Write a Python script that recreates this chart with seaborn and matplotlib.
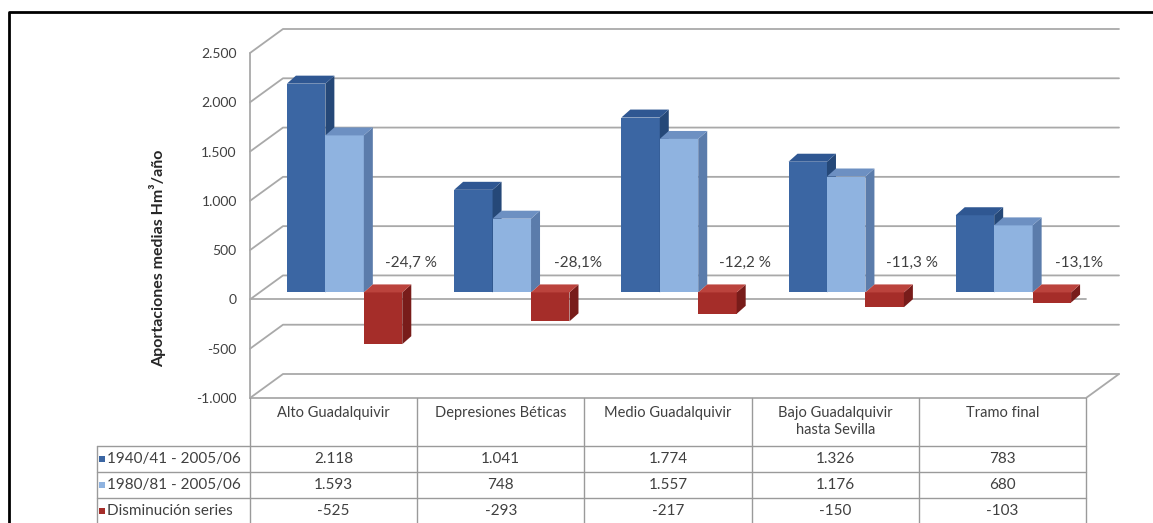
import numpy as np
import pandas as pd
import matplotlib
matplotlib.use("Agg")
import matplotlib.pyplot as plt
from matplotlib.lines import Line2D
from matplotlib.patches import Polygon, Rectangle
from matplotlib.transforms import ScaledTranslation
import seaborn as sns

# ---- data ----
regions = ["Alto Guadalquivir", "Depresiones Béticas", "Medio Guadalquivir",
           "Bajo Guadalquivir\nhasta Sevilla", "Tramo final"]
series_names = ["1940/41 - 2005/06", "1980/81 - 2005/06", "Disminución series"]
serie_1940 = [2118, 1041, 1774, 1326, 783]
serie_1980 = [1593, 748, 1557, 1176, 680]
disminucion = [-525, -293, -217, -150, -103]
pct_labels = ["-24,7 %", "-28,1%", "-12,2 %", "-11,3 %", "-13,1%"]
y_ticks = [-1000, -500, 0, 500, 1000, 1500, 2000, 2500]
y_label = "Aportaciones medias Hm³/año"

front_cols = ["#3b66a3", "#8fb3e0", "#a52d29"]
side_cols = ["#254878", "#5b7cab", "#781c1a"]
top_cols = ["#2f5792", "#6d90c2", "#bb433d"]

df = pd.DataFrame({
    "region": regions * 3,
    "series": [s for s in series_names for _ in regions],
    "value": serie_1940 + serie_1980 + disminucion,
})

sns.set_theme(style="white")
plt.rcParams["font.family"] = ["Lato", "DejaVu Sans"]

TXT = "#404040"
W, H = 1153, 523
fig = plt.figure(figsize=(W / 100, H / 100), dpi=100)
fig.patch.set_facecolor("white")
AX_L, AX_R, AX_T, AX_B = 250, 1086, 53, 398
ax = fig.add_axes([AX_L / W, 1 - AX_B / H, (AX_R - AX_L) / W, (AX_B - AX_T) / H])

sns.barplot(data=df, x="region", y="value", hue="series", hue_order=series_names,
            palette=front_cols, width=0.69, saturation=1, ax=ax, legend=False,
            errorbar=None)
ax.set_xlim(-0.5, len(regions) - 0.5)
ax.set_ylim(-1000, 2500)
ax.set_facecolor("none")
for s in ax.spines.values():
    s.set_visible(False)
ax.set_xticks([])
ax.set_xlabel("")
ax.set_ylabel("")
ax.set_yticks(y_ticks)
ax.set_yticklabels([f"{v:,}".replace(",", ".") for v in y_ticks])
ax.tick_params(axis="y", length=0, pad=9.5, labelsize=10, labelcolor=TXT)

def F(xp, yp):
    return (xp / W, 1 - yp / H)

def data_px(x, v):
    d = ax.transData.transform((x, v))
    return d[0], H - d[1]

GRID = "#a9a9a9"
DX_W, DY_W = 33, 24   # wall depth

def fline(xs, ys, color=GRID, lw=1.3, z=0.5, target=None):
    pts = [F(x, y) for x, y in zip(xs, ys)]
    ln = Line2D([p[0] for p in pts], [p[1] for p in pts], color=color, lw=lw,
                transform=fig.transFigure, zorder=z, clip_on=False)
    if target is None:
        ax.add_line(ln)
    else:
        fig.add_artist(ln)

x_left_px = data_px(-0.5, 0)[0]
x_right_px = data_px(len(regions) - 0.5, 0)[0]
for v in y_ticks:
    _, yp = data_px(-0.5, v)
    fline([x_left_px, x_left_px + DX_W, x_right_px + DX_W],
          [yp, yp - DY_W, yp - DY_W])
# front lines at 0 and floor
_, y0 = data_px(0, 0)
fline([x_left_px, x_right_px], [y0, y0])
_, yb = data_px(0, -1000)
_, yt = data_px(0, 2500)
fline([x_left_px, x_right_px, x_right_px + DX_W], [yb, yb, yb - DY_W])
fline([x_left_px, x_left_px], [yt, yb])

# ---- pseudo 3D bars ----
SHX, SHY = 11, 7
DX, DY = 9, 8
shift = ScaledTranslation(SHX / 100, SHY / 100, fig.dpi_scale_trans)
n = len(regions)
for k, p in enumerate(list(ax.patches)):
    si = k // n
    z = 2 + si
    p.set_transform(ax.transData + shift)
    p.set_zorder(z)
    p.set_edgecolor("none")
    x0, w = p.get_x(), p.get_width()
    y0d, h = p.get_y(), p.get_height()
    top, bot = max(y0d, y0d + h), min(y0d, y0d + h)
    L, T = data_px(x0, top)
    R, B = data_px(x0 + w, bot)
    L += SHX; R += SHX; T -= SHY; B -= SHY
    side = [F(R, T), F(R + DX, T - DY), F(R + DX, B - DY), F(R, B)]
    topf = [F(L, T), F(R, T), F(R + DX, T - DY), F(L + DX, T - DY)]
    for verts, col in ((side, side_cols[si]), (topf, top_cols[si])):
        ax.add_patch(Polygon(verts, closed=True, facecolor=col, edgecolor="none",
                             transform=fig.transFigure, zorder=z, clip_on=False))

for i, lab in enumerate(pct_labels):
    ax.text(i + 0.46, 370, lab, ha="center", va="center", fontsize=11,
            color=TXT, zorder=6)

# y label
fig.text(158 / W, 1 - 258 / H, y_label, rotation=90, ha="center", va="center",
         fontsize=11.5, fontweight="bold", color="#262626")

# ---- data table ----
TAB = "#9a9a9a"
row_lines = [446, 472, 498]
col_edges = [data_px(i - 0.5, 0)[0] for i in range(n + 1)]
for xe in col_edges:
    fline([xe, xe], [yb, H], color=TAB, lw=1.0, target="fig")
fline([97, 97], [row_lines[0], H], color=TAB, lw=1.0, target="fig")
for yr in row_lines:
    fline([97, col_edges[-1]], [yr, yr], color=TAB, lw=1.0, target="fig")

for i, reg in enumerate(regions):
    cx = (col_edges[i] + col_edges[i + 1]) / 2
    fig.text(*F(cx, 406), reg, ha="center", va="top", fontsize=10.5,
             color=TXT, linespacing=1.3)
rows = [serie_1940, serie_1980, disminucion]
row_centers = [459, 485, 511]
for r, (vals, yc) in enumerate(zip(rows, row_centers)):
    fig.add_artist(Rectangle(F(99, yc + 3), 6 / W, 6 / H, transform=fig.transFigure,
                             facecolor=front_cols[r], edgecolor="none"))
    fig.text(*F(107, yc), series_names[r], ha="left", va="center", fontsize=11,
             color=TXT)
    for i, v in enumerate(vals):
        cx = (col_edges[i] + col_edges[i + 1]) / 2
        fig.text(*F(cx, yc), f"{v:,}".replace(",", "."), ha="center", va="center",
                 fontsize=11, color=TXT)

# black frame (top and left)
fig.add_artist(Line2D([9 / W, 9 / W, 1], [0, 1 - 12 / H, 1 - 12 / H], color="black",
                      lw=2.0, transform=fig.transFigure))

fig.savefig("out.png", dpi=100)
